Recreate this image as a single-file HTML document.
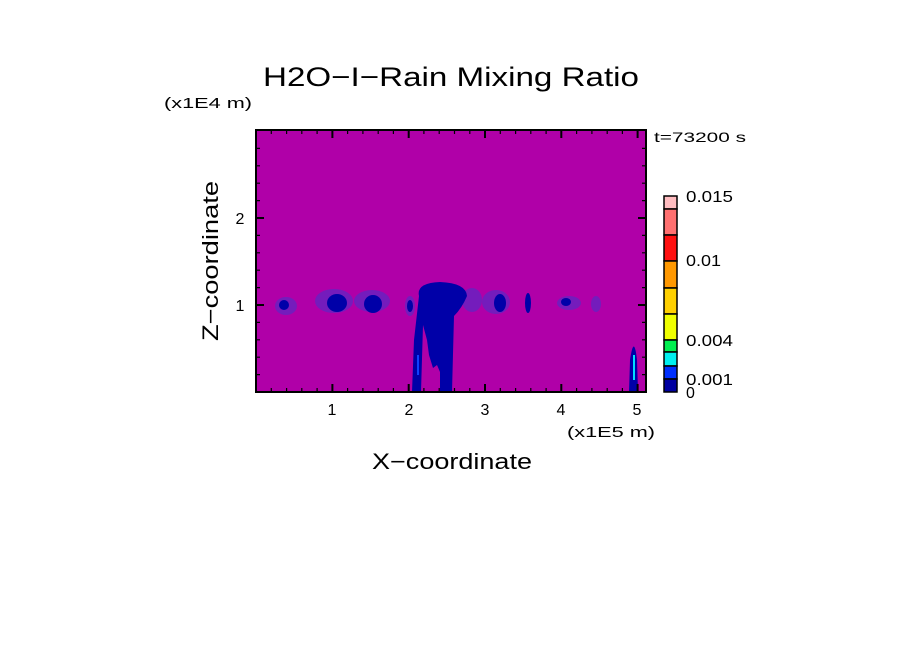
<!DOCTYPE html>
<html><head><style>
body{margin:0;background:#fff;}
svg{display:block;font-family:"Liberation Sans",sans-serif;}
</style></head><body>
<svg width="904" height="654" viewBox="0 0 904 654">
<rect width="904" height="654" fill="#fff"/>
<text x="451" y="86" font-size="27" text-anchor="middle" fill="#000" textLength="376" lengthAdjust="spacingAndGlyphs">H2O−I−Rain Mixing Ratio</text>
<text x="164" y="108" font-size="15" fill="#000" textLength="88" lengthAdjust="spacingAndGlyphs">(x1E4 m)</text>
<text x="654" y="142" font-size="14" fill="#000" textLength="92" lengthAdjust="spacingAndGlyphs">t=73200 s</text>
<rect x="256" y="130" width="390" height="262" fill="#b000a8"/>
<g fill="#6a22c0" opacity="0.85">
<ellipse cx="286" cy="306" rx="11" ry="9"/>
<ellipse cx="334" cy="301" rx="19" ry="12"/>
<ellipse cx="372" cy="301" rx="18" ry="11"/>
<ellipse cx="410" cy="306" rx="5" ry="10"/>
<ellipse cx="472" cy="300" rx="10" ry="12"/>
<ellipse cx="496" cy="302" rx="14" ry="12"/>
<ellipse cx="569" cy="303" rx="12" ry="7"/>
<ellipse cx="596" cy="304" rx="5" ry="8"/>
</g>
<g fill="#0000a8">
<ellipse cx="284" cy="305" rx="5" ry="5"/>
<ellipse cx="337" cy="303" rx="10" ry="9"/>
<ellipse cx="373" cy="304" rx="9" ry="9"/>
<ellipse cx="410" cy="306" rx="3" ry="6"/>
<ellipse cx="500" cy="303" rx="6" ry="9"/>
<ellipse cx="528" cy="303" rx="3" ry="10"/>
<ellipse cx="566" cy="302" rx="5" ry="4"/>
<path d="M419,296 Q416,283 440,282 Q466,283 467,296 Q462,308 454,316 L452,392 L440,392 L440,372 L437,365 L433,368 L429,355 L427,340 L423,325 L421,392 L412,392 L414,340 Z"/>
<path d="M629,392 L630,360 Q634,333 637,360 L638,392 Z"/>
</g>
<rect x="417" y="355" width="2" height="20" fill="#1040ff"/>
<rect x="633" y="355" width="2" height="25" fill="#00e0ff"/>
<rect x="256" y="130" width="390" height="262" fill="none" stroke="#000" stroke-width="2"/>
<g stroke="#000" stroke-width="1.2">
<path d="M271.3,392v-4M286.6,392v-4M301.8,392v-4M317.1,392v-4M347.6,392v-4M362.9,392v-4M378.2,392v-4M393.4,392v-4M423.9,392v-4M439.2,392v-4M454.5,392v-4M469.8,392v-4M500.3,392v-4M515.6,392v-4M530.8,392v-4M546.1,392v-4M576.6,392v-4M591.9,392v-4M607.2,392v-4M622.4,392v-4"/>
<path d="M271.3,130v4M286.6,130v4M301.8,130v4M317.1,130v4M347.6,130v4M362.9,130v4M378.2,130v4M393.4,130v4M423.9,130v4M439.2,130v4M454.5,130v4M469.8,130v4M500.3,130v4M515.6,130v4M530.8,130v4M546.1,130v4M576.6,130v4M591.9,130v4M607.2,130v4M622.4,130v4"/>
<path stroke-width="2" d="M332.4,392v-8M408.7,392v-8M485,392v-8M561.3,392v-8M637.6,392v-8M332.4,130v8M408.7,130v8M485,130v8M561.3,130v8M637.6,130v8"/>
<path d="M256,374.6h4M256,357.2h4M256,339.8h4M256,322.4h4M256,287.6h4M256,270.2h4M256,252.8h4M256,235.4h4M256,200.6h4M256,183.2h4M256,165.8h4M256,148.4h4M646,374.6h-4M646,357.2h-4M646,339.8h-4M646,322.4h-4M646,287.6h-4M646,270.2h-4M646,252.8h-4M646,235.4h-4M646,200.6h-4M646,183.2h-4M646,165.8h-4M646,148.4h-4"/>
<path stroke-width="2" d="M256,305h8M256,218h8M646,305h-8M646,218h-8"/>
</g>
<g font-size="16" fill="#000" text-anchor="middle">
<text x="332" y="415">1</text><text x="409" y="415">2</text><text x="485" y="415">3</text><text x="561" y="415">4</text><text x="637" y="415">5</text>
<text x="240" y="311">1</text><text x="240" y="224">2</text>
</g>
<text x="567" y="437" font-size="15" fill="#000" textLength="88" lengthAdjust="spacingAndGlyphs">(x1E5 m)</text>
<text x="452" y="469" font-size="22" text-anchor="middle" fill="#000" textLength="160" lengthAdjust="spacingAndGlyphs">X−coordinate</text>
<text transform="translate(218,261) rotate(-90)" font-size="22" text-anchor="middle" fill="#000" textLength="160" lengthAdjust="spacingAndGlyphs">Z−coordinate</text>
<g stroke="#000" stroke-width="1.5">
<rect x="664" y="196" width="13" height="13" fill="#ffbcc0"/>
<rect x="664" y="209" width="13" height="26" fill="#ff7070"/>
<rect x="664" y="235" width="13" height="26" fill="#ff1010"/>
<rect x="664" y="261" width="13" height="27" fill="#ff9800"/>
<rect x="664" y="288" width="13" height="26" fill="#ffd000"/>
<rect x="664" y="314" width="13" height="26" fill="#f0ff00"/>
<rect x="664" y="340" width="13" height="12" fill="#00f050"/>
<rect x="664" y="352" width="13" height="14" fill="#00f0f0"/>
<rect x="664" y="366" width="13" height="13" fill="#0030ff"/>
<rect x="664" y="379" width="13" height="13" fill="#0000a0"/>
</g>
<g font-size="16" fill="#000">
<text x="686" y="202" textLength="47" lengthAdjust="spacingAndGlyphs">0.015</text>
<text x="686" y="266" textLength="35" lengthAdjust="spacingAndGlyphs">0.01</text>
<text x="686" y="346" textLength="47" lengthAdjust="spacingAndGlyphs">0.004</text>
<text x="686" y="385" textLength="47" lengthAdjust="spacingAndGlyphs">0.001</text>
<text x="686" y="398">0</text>
</g>
</svg>
</body></html>
